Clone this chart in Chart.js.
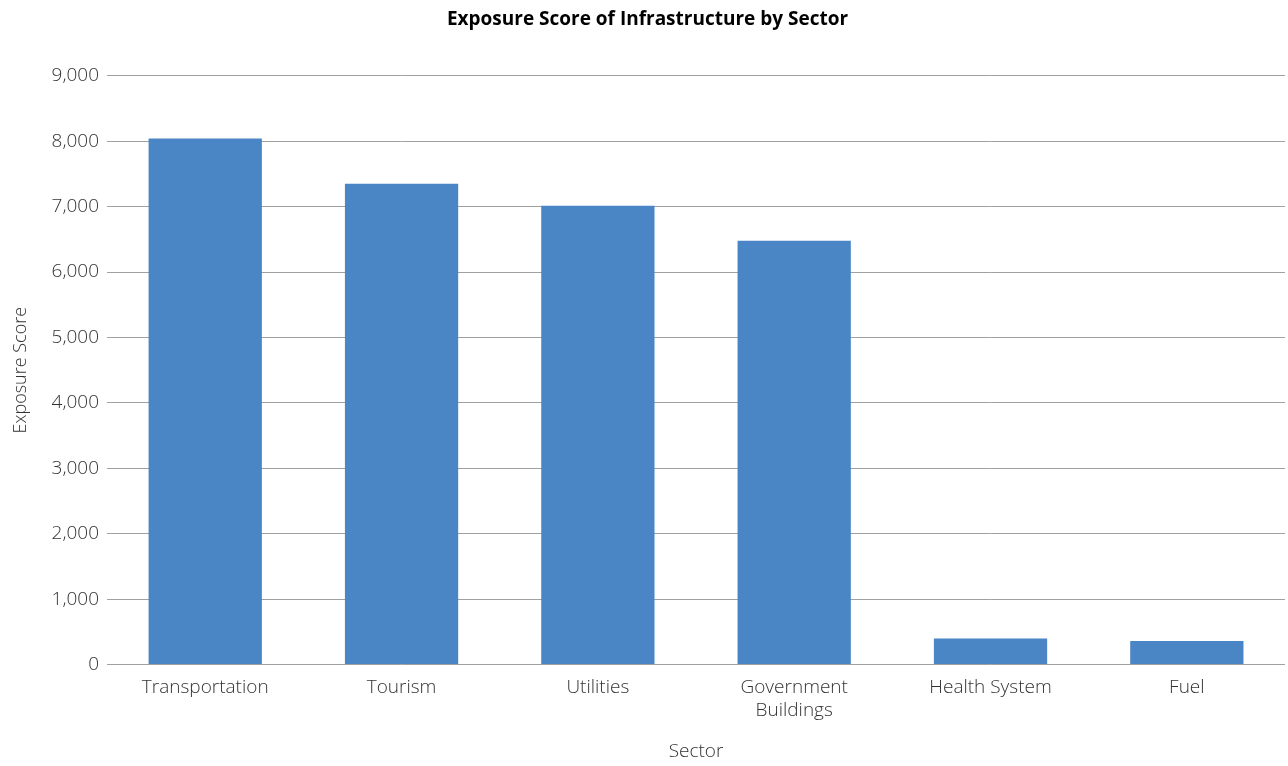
<!DOCTYPE html>
<html>
<head>
<meta charset="utf-8">
<script src="https://cdn.jsdelivr.net/npm/chart.js@4.4.0/dist/chart.umd.min.js"></script>
<style>
  html, body { margin: 0; padding: 0; background: #fff; }
  #wrap { width: 1288px; height: 766px; }
</style>
</head>
<body>
<div id="wrap"><canvas id="exposureChart"></canvas></div>
<script>
const sectors = ["Transportation", "Tourism", "Utilities", ["Government", "Buildings"], "Health System", "Fuel"];
const exposureScores = [8040, 7350, 7015, 6480, 400, 360];
const yTicks = [0, 1000, 2000, 3000, 4000, 5000, 6000, 7000, 8000, 9000];

const ctx = document.getElementById("exposureChart");
const labelFont = { family: "Open Sans", size: 19, weight: "300" };

new Chart(ctx, {
  type: "bar",
  data: {
    labels: sectors,
    datasets: [{
      label: "Exposure Score",
      data: exposureScores,
      backgroundColor: "#4a86c5",
      borderWidth: 0,
      categoryPercentage: 1,
      barPercentage: 0.577
    }]
  },
  options: {
    responsive: true,
    maintainAspectRatio: false,
    animation: false,
    layout: { padding: { top: 8, right: 3, bottom: 3, left: 10 } },
    plugins: {
      legend: { display: false },
      tooltip: { enabled: false },
      title: {
        display: true,
        text: "Exposure Score of Infrastructure by Sector",
        color: "#000",
        font: { family: "Open Sans", size: 19, weight: "bold" },
        padding: { top: 0, bottom: 45 }
      }
    },
    scales: {
      y: {
        min: 0,
        max: 9000,
        afterBuildTicks: axis => { axis.ticks = yTicks.map(v => ({ value: v })); },
        ticks: {
          color: "#333",
          font: labelFont,
          padding: 8,
          callback: v => v.toLocaleString("en-US")
        },
        grid: { color: "#a0a0a0", lineWidth: 1, drawTicks: false },
        border: { display: false },
        title: {
          display: true,
          text: "Exposure Score",
          color: "#333",
          font: { family: "Open Sans", size: 18, weight: "300" },
          padding: { top: 0, bottom: 12 }
        }
      },
      x: {
        ticks: {
          color: "#333",
          font: labelFont,
          padding: 12,
          maxRotation: 0,
          autoSkip: false
        },
        grid: { display: false, drawTicks: false },
        border: { display: false },
        title: {
          display: true,
          text: "Sector",
          color: "#333",
          font: labelFont,
          padding: { top: 6, bottom: 0 }
        }
      }
    }
  }
});
</script>
</body>
</html>
